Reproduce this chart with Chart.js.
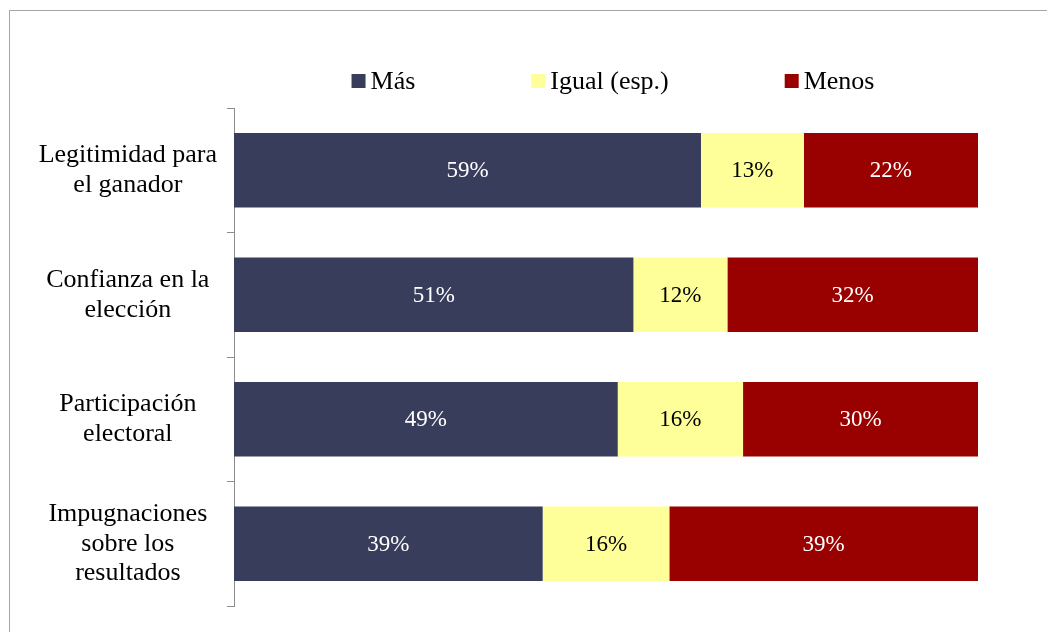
<!DOCTYPE html>
<html>
<head>
<meta charset="utf-8">
<script src="https://cdn.jsdelivr.net/npm/chart.js@4.4.1/dist/chart.umd.min.js"></script>
<style>
    html, body { margin: 0; padding: 0; background: #fff; overflow: hidden; }
    #frame { position: absolute; left: 9px; top: 10px; width: 1100px; height: 700px; border: 1px solid #a6a6a6; }
    #wrap { position: absolute; left: 0; top: 0; width: 1047px; height: 632px; }
</style>
</head>
<body>
<div id="frame"></div>
<div id="wrap"><canvas id="myChart"></canvas></div>
<script>
const categories = [
    ['Legitimidad para', 'el ganador'],
    ['Confianza en la', 'elección'],
    ['Participación', 'electoral'],
    ['Impugnaciones', 'sobre los', 'resultados'],
];
const seriesNames = ['Más', 'Igual (esp.)', 'Menos'];
const mas = [59, 51, 49, 39];
const igual = [13, 12, 16, 16];
const menos = [22, 32, 30, 39];

const colors = ['#393d5c', '#ffff99', '#990000'];
const labelColors = ['#ffffff', '#000000', '#ffffff'];
const rows = [mas, igual, menos];

// the bars are stretched to full width (values don't sum to 100)
const totals = mas.map((v, i) => v + igual[i] + menos[i]);
const share = (arr) => arr.map((v, i) => v / totals[i] * 100);

// write the % values in the middle of each segment
const barLabels = {
    id: 'barLabels',
    afterDatasetsDraw(chart) {
        const ctx = chart.ctx;
        ctx.save();
        ctx.font = '23px "Liberation Serif"';
        ctx.textAlign = 'center';
        ctx.textBaseline = 'middle';
        chart.data.datasets.forEach((ds, i) => {
            chart.getDatasetMeta(i).data.forEach((bar, j) => {
                const { x, y, base } = bar.getProps(['x', 'y', 'base'], true);
                ctx.fillStyle = labelColors[i];
                ctx.fillText(rows[i][j] + '%', (x + base) / 2, y + 1);
            });
        });
        ctx.restore();
    }
};

// legend row centered over the plot area
const legendRow = {
    id: 'legendRow',
    afterDraw(chart) {
        const ctx = chart.ctx;
        const { left, right } = chart.chartArea;
        const box = 14, gap = 5, spacing = 116, y = 81;
        ctx.save();
        ctx.font = '26px "Liberation Serif"';
        ctx.textBaseline = 'middle';
        const widths = seriesNames.map(n => box + gap + ctx.measureText(n).width);
        const total = widths.reduce((a, b) => a + b, 0) + spacing * (widths.length - 1);
        let x = (left + right) / 2 + 7 - total / 2;
        seriesNames.forEach((name, i) => {
            ctx.fillStyle = colors[i];
            ctx.fillRect(x, y - box / 2, box, box);
            ctx.fillStyle = '#000';
            ctx.fillText(name, x + box + gap, y + 1);
            x += widths[i] + spacing;
        });
        ctx.restore();
    }
};

const ctx = document.getElementById('myChart').getContext('2d');

const myChart = new Chart(ctx, {
    type: 'bar',
    data: {
        labels: categories,
        datasets: seriesNames.map((name, i) => ({
            label: name,
            data: share(rows[i]),
            backgroundColor: colors[i],
            borderWidth: 0,
            barPercentage: 0.6,
            categoryPercentage: 1,
        }))
    },
    plugins: [barLabels, legendRow],
    options: {
        indexAxis: 'y',
        responsive: true,
        maintainAspectRatio: false,
        animation: false,
        layout: {
            padding: { top: 108, right: 69, bottom: 26, left: 0 }
        },
        plugins: {
            legend: { display: false },
            tooltip: { enabled: false },
        },
        scales: {
            x: {
                display: false,
                stacked: true,
                min: 0,
                max: 100,
            },
            y: {
                stacked: true,
                afterFit: (scale) => {
                    scale.width = 234; // axis line sits at x=234
                    // tall 3-line label shouldn't push the plot area up
                    scale.paddingTop = 0;
                    scale.paddingBottom = 0;
                },
                grid: {
                    drawOnChartArea: false,
                    tickLength: 7,
                    color: '#8c8c8c',
                },
                border: { color: '#8c8c8c' },
                ticks: {
                    crossAlign: 'center',
                    padding: 10,
                    color: '#000',
                    font: { family: 'Liberation Serif', size: 26, lineHeight: 1.15 },
                }
            }
        }
    }
});
</script>
</body>
</html>
